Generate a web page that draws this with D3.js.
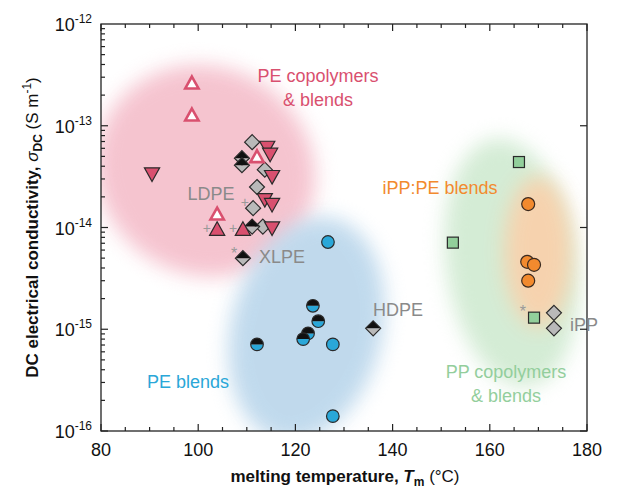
<!DOCTYPE html>
<html>
<head>
<meta charset="utf-8">
<script src="https://cdn.jsdelivr.net/npm/d3@7"></script>
<style>
  body { margin: 0; background: #fff; }
  text { font-family: "Liberation Sans", Arial, sans-serif; }
</style>
</head>
<body>
<div id="chart"></div>
<script>
// data: [Tm (°C), sigma (S/m)]
var openUpTri = [[98.7, 2.6e-13], [98.7, 1.26e-13], [112.1, 4.9e-14], [103.9, 1.34e-14]];
var filledUpTri = [[103.9, 9.5e-15], [109.2, 9.5e-15]];
var downTri = [[90.5, 3.4e-14], [114.2, 6.2e-14], [114.8, 5.3e-14], [115.2, 3.2e-14],
  [113.7, 1.9e-14], [115.2, 1.7e-14], [115.2, 1.0e-14]];
var greyDiamonds = [[111.1, 6.9e-14], [113.7, 3.7e-14], [112.1, 2.5e-14], [111.3, 1.55e-14],
  [113.3, 1.02e-14]];
var halfDiamonds = [[109.0, 4.8e-14], [109.0, 4.1e-14], [111.1, 1.02e-14], [109.2, 5.0e-15],
  [136.0, 1.02e-15]];
var plusMarks = [[109.6, 1.78e-14], [101.8, 1.0e-14], [107.2, 1.0e-14]];
var starMarks = [[107.4, 5.9e-15], [166.8, 1.58e-15]];
var blueCircles = [[126.7, 7.2e-15], [127.7, 7.1e-16], [127.7, 1.4e-16]];
var blueHalfCircles = [[123.6, 1.7e-15], [124.7, 1.2e-15], [122.6, 9.1e-16], [121.6, 8.0e-16],
  [112.1, 7.1e-16]];
var orangeCircles = [[167.9, 1.7e-14], [167.7, 4.6e-15], [169.1, 4.3e-15], [167.9, 3.0e-15]];
var greenSquares = [[166.0, 4.4e-14], [152.4, 7.1e-15], [169.1, 1.3e-15]];
var ippDiamonds = [[173.2, 1.45e-15], [173.2, 1.02e-15]];

// shaded regions: centre Tm, centre sigma, half-width (°C), half-height (decades), tilt (deg)
var regionNames = ["pe", "blue", "green", "orange"];
var regionCentres = [[101.5, 3.6e-14], [122.3, 1.0e-15], [164.5, 4.5e-15], [170.0, 5.8e-15]];
var regionRadii = [[23, 1.02], [15.5, 1.12], [13.5, 1.23], [7, 0.74]];
var regionTilt = [30, 14, -8, 0];

var xTicks = [80, 100, 120, 140, 160, 180];
var yTicks = [-12, -13, -14, -15, -16];

var width = 622, height = 489;
var margin = {left: 101, right: 35, top: 24, bottom: 58};

var colPink = "#d9506f", colBlue = "#2aa7d8", colOrange = "#f28a2e", colGreen = "#92cf9b",
  colGrey = "#b9b9b9", colEdge = "#2a2a2a";

var svg = d3.select("#chart").append("svg").attr("width", width).attr("height", height);

var x = d3.scaleLinear().domain([80, 180]).range([margin.left, width - margin.right]);
var y = d3.scaleLog().domain([1e-16, 1e-12]).range([height - margin.bottom, margin.top]);

var defs = svg.append("defs");
defs.append("filter").attr("id", "soft").attr("x", "-50%").attr("y", "-50%")
  .attr("width", "200%").attr("height", "200%")
  .append("feGaussianBlur").attr("stdDeviation", 10);
defs.append("clipPath").attr("id", "plotclip").append("rect")
  .attr("x", margin.left).attr("y", margin.top)
  .attr("width", width - margin.left - margin.right)
  .attr("height", height - margin.top - margin.bottom);

var regionFill = {pe: "#f5c1cd", blue: "#bdd8ec", green: "#d2ebd3", orange: "#fad0aa"};

var regions = svg.append("g").attr("clip-path", "url(#plotclip)");
regionNames.forEach(function (name, i) {
  var cx = x(regionCentres[i][0]), cy = y(regionCentres[i][1]);
  var rx = x(80 + regionRadii[i][0]) - x(80);
  var ry = y(1e-14) - y(Math.pow(10, -14 + regionRadii[i][1]));
  regions.append("ellipse")
    .attr("cx", cx).attr("cy", cy).attr("rx", rx).attr("ry", ry)
    .attr("transform", "rotate(" + regionTilt[i] + "," + cx + "," + cy + ")")
    .attr("fill", regionFill[name])
    .attr("opacity", name == "orange" ? 0.9 : 0.95)
    .attr("filter", "url(#soft)");
});

// frame and ticks
var frame = svg.append("g");
frame.append("rect")
  .attr("x", margin.left).attr("y", margin.top)
  .attr("width", width - margin.left - margin.right)
  .attr("height", height - margin.top - margin.bottom)
  .attr("fill", "none").attr("stroke", "#222").attr("stroke-width", 1.3);

var xMinor = d3.range(80, 181, 5);
xMinor.forEach(function (t) {
  var major = t % 20 == 0;
  var len = major ? 7 : 4;
  frame.append("line").attr("x1", x(t)).attr("x2", x(t))
    .attr("y1", y(1e-16)).attr("y2", y(1e-16) - len).attr("stroke", "#222").attr("stroke-width", 1.2);
  frame.append("line").attr("x1", x(t)).attr("x2", x(t))
    .attr("y1", y(1e-12)).attr("y2", y(1e-12) + len).attr("stroke", "#222").attr("stroke-width", 1.2);
});
d3.range(-16, -12).forEach(function (e) {
  for (var k = 1; k < 10; k++) {
    var v = k * Math.pow(10, e);
    var len = k == 1 ? 7 : 4;
    frame.append("line").attr("x1", x(80)).attr("x2", x(80) + len)
      .attr("y1", y(v)).attr("y2", y(v)).attr("stroke", "#222").attr("stroke-width", 1.2);
    if (k == 1) {
      frame.append("line").attr("x1", x(180)).attr("x2", x(180) - len)
        .attr("y1", y(v)).attr("y2", y(v)).attr("stroke", "#222").attr("stroke-width", 1.2);
    }
  }
});

// tick labels
svg.append("g").selectAll("text").data(xTicks).join("text")
  .attr("x", d => x(d)).attr("y", y(1e-16) + 25)
  .attr("text-anchor", "middle").attr("font-size", 18).attr("fill", "#111")
  .text(d => d);

var yl = svg.append("g").selectAll("text").data(yTicks).join("text")
  .attr("x", x(80) - 9).attr("y", d => y(Math.pow(10, d)) + 7)
  .attr("text-anchor", "end").attr("font-size", 18).attr("fill", "#111");
yl.append("tspan").text("10");
yl.append("tspan").attr("dy", -8).attr("font-size", 12).text(d => "-" + (-d));

// axis titles
var xt = svg.append("text").attr("x", 345).attr("y", 482).attr("text-anchor", "middle")
  .attr("font-size", 17).attr("fill", "#111");
xt.append("tspan").attr("font-weight", "bold").text("melting temperature, ");
xt.append("tspan").attr("font-weight", "bold").attr("font-style", "italic").text("T");
xt.append("tspan").attr("font-weight", "bold").attr("font-size", 12).attr("dy", 4).text("m");
xt.append("tspan").attr("dy", -4).text(" (°C)");

var yt = svg.append("text").attr("transform", "translate(38," + ((margin.top + height - margin.bottom) / 2) + ") rotate(-90)")
  .attr("text-anchor", "middle").attr("font-size", 17).attr("fill", "#111");
yt.append("tspan").attr("font-weight", "bold").text("DC electrical conductivity, ");
yt.append("tspan").attr("font-style", "italic").text("σ");
yt.append("tspan").attr("font-weight", "bold").attr("font-size", 12).attr("dy", 4).text("DC");
yt.append("tspan").attr("dy", -4).text(" (S m");
yt.append("tspan").attr("font-size", 12).attr("dy", -7).text("-1");
yt.append("tspan").attr("dy", 7).text(")");

// marker helpers
var marks = svg.append("g");
function px(d) { return x(d[0]); }
function py(d) { return y(d[1]); }

function triUp(s) { return "M0," + (-s) + "L" + (s * 0.95) + "," + (s * 0.7) + "L" + (-s * 0.95) + "," + (s * 0.7) + "Z"; }
function triDown(s) { return "M0," + s + "L" + (s * 0.95) + "," + (-s * 0.7) + "L" + (-s * 0.95) + "," + (-s * 0.7) + "Z"; }
function diamond(s) { return "M0," + (-s) + "L" + s + ",0L0," + s + "L" + (-s) + ",0Z"; }

// grey diamonds
marks.selectAll(".gd").data(greyDiamonds).join("path")
  .attr("transform", d => "translate(" + px(d) + "," + py(d) + ")")
  .attr("d", diamond(7.5)).attr("fill", colGrey).attr("stroke", colEdge).attr("stroke-width", 1.2);

// down triangles
marks.selectAll(".dt").data(downTri).join("path")
  .attr("transform", d => "translate(" + px(d) + "," + py(d) + ")")
  .attr("d", triDown(8)).attr("fill", colPink).attr("stroke", colEdge).attr("stroke-width", 1.2);

// half filled diamonds (black top, grey bottom)
var hd = marks.selectAll(".hd").data(halfDiamonds).join("g")
  .attr("transform", d => "translate(" + px(d) + "," + py(d) + ")");
hd.append("path").attr("d", "M-7.5,0L0,7.5L7.5,0Z").attr("fill", colGrey);
hd.append("path").attr("d", "M-7.5,0L0,-7.5L7.5,0Z").attr("fill", "#111");
hd.append("path").attr("d", diamond(7.5)).attr("fill", "none").attr("stroke", colEdge).attr("stroke-width", 1.2);

// filled up triangles
marks.selectAll(".ft").data(filledUpTri).join("path")
  .attr("transform", d => "translate(" + px(d) + "," + py(d) + ")")
  .attr("d", triUp(8)).attr("fill", colPink).attr("stroke", colEdge).attr("stroke-width", 1.2);

// open up triangles
marks.selectAll(".ot").data(openUpTri).join("path")
  .attr("transform", d => "translate(" + px(d) + "," + py(d) + ")")
  .attr("d", triUp(7)).attr("fill", "#fff").attr("stroke", colPink).attr("stroke-width", 2.6);

// plus and star marks
marks.selectAll(".pl").data(plusMarks).join("text")
  .attr("x", px).attr("y", d => py(d) + 5).attr("text-anchor", "middle")
  .attr("font-size", 14).attr("fill", "#999").text("+");
marks.selectAll(".st").data(starMarks).join("text")
  .attr("x", px).attr("y", d => py(d) + 8).attr("text-anchor", "middle")
  .attr("font-size", 16).attr("fill", "#999").text("*");

// blue circles
marks.selectAll(".bc").data(blueCircles).join("circle")
  .attr("cx", px).attr("cy", py).attr("r", 6.3)
  .attr("fill", colBlue).attr("stroke", colEdge).attr("stroke-width", 1.2);
var bh = marks.selectAll(".bh").data(blueHalfCircles).join("g")
  .attr("transform", d => "translate(" + px(d) + "," + py(d) + ")");
bh.append("path").attr("d", "M-6.3,0A6.3,6.3 0 0,0 6.3,0Z").attr("fill", colBlue);
bh.append("path").attr("d", "M-6.3,0A6.3,6.3 0 0,1 6.3,0Z").attr("fill", "#111");
bh.append("circle").attr("r", 6.3).attr("fill", "none").attr("stroke", colEdge).attr("stroke-width", 1.2);

// orange circles
marks.selectAll(".oc").data(orangeCircles).join("circle")
  .attr("cx", px).attr("cy", py).attr("r", 6.5)
  .attr("fill", colOrange).attr("stroke", "#3a2a20").attr("stroke-width", 1.2);

// green squares
marks.selectAll(".gs").data(greenSquares).join("rect")
  .attr("x", d => px(d) - 5.5).attr("y", d => py(d) - 5.5).attr("width", 11).attr("height", 11)
  .attr("fill", colGreen).attr("stroke", colEdge).attr("stroke-width", 1.2);

// iPP diamonds
marks.selectAll(".ip").data(ippDiamonds).join("path")
  .attr("transform", d => "translate(" + px(d) + "," + py(d) + ")")
  .attr("d", diamond(7.5)).attr("fill", colGrey).attr("stroke", colEdge).attr("stroke-width", 1.2);

// region labels
var labels = svg.append("g").attr("font-size", 18);
function label(tx, ty, str, col, anchor) {
  labels.append("text").attr("x", tx).attr("y", ty).attr("fill", col)
    .attr("text-anchor", anchor || "middle").text(str);
}
label(318, 82, "PE copolymers", colPink);
label(318, 106, "& blends", colPink);
label(211, 200, "LDPE", "#8a8a8a");
label(282, 263, "XLPE", "#8a8a8a");
label(398, 316, "HDPE", "#8a8a8a");
label(188, 388, "PE blends", colBlue);
label(440, 194, "iPP:PE blends", colOrange);
label(506, 378, "PP copolymers", "#93ce9c");
label(506, 402, "& blends", "#93ce9c");
label(584, 331, "iPP", "#8a8a8a");
</script>
</body>
</html>
